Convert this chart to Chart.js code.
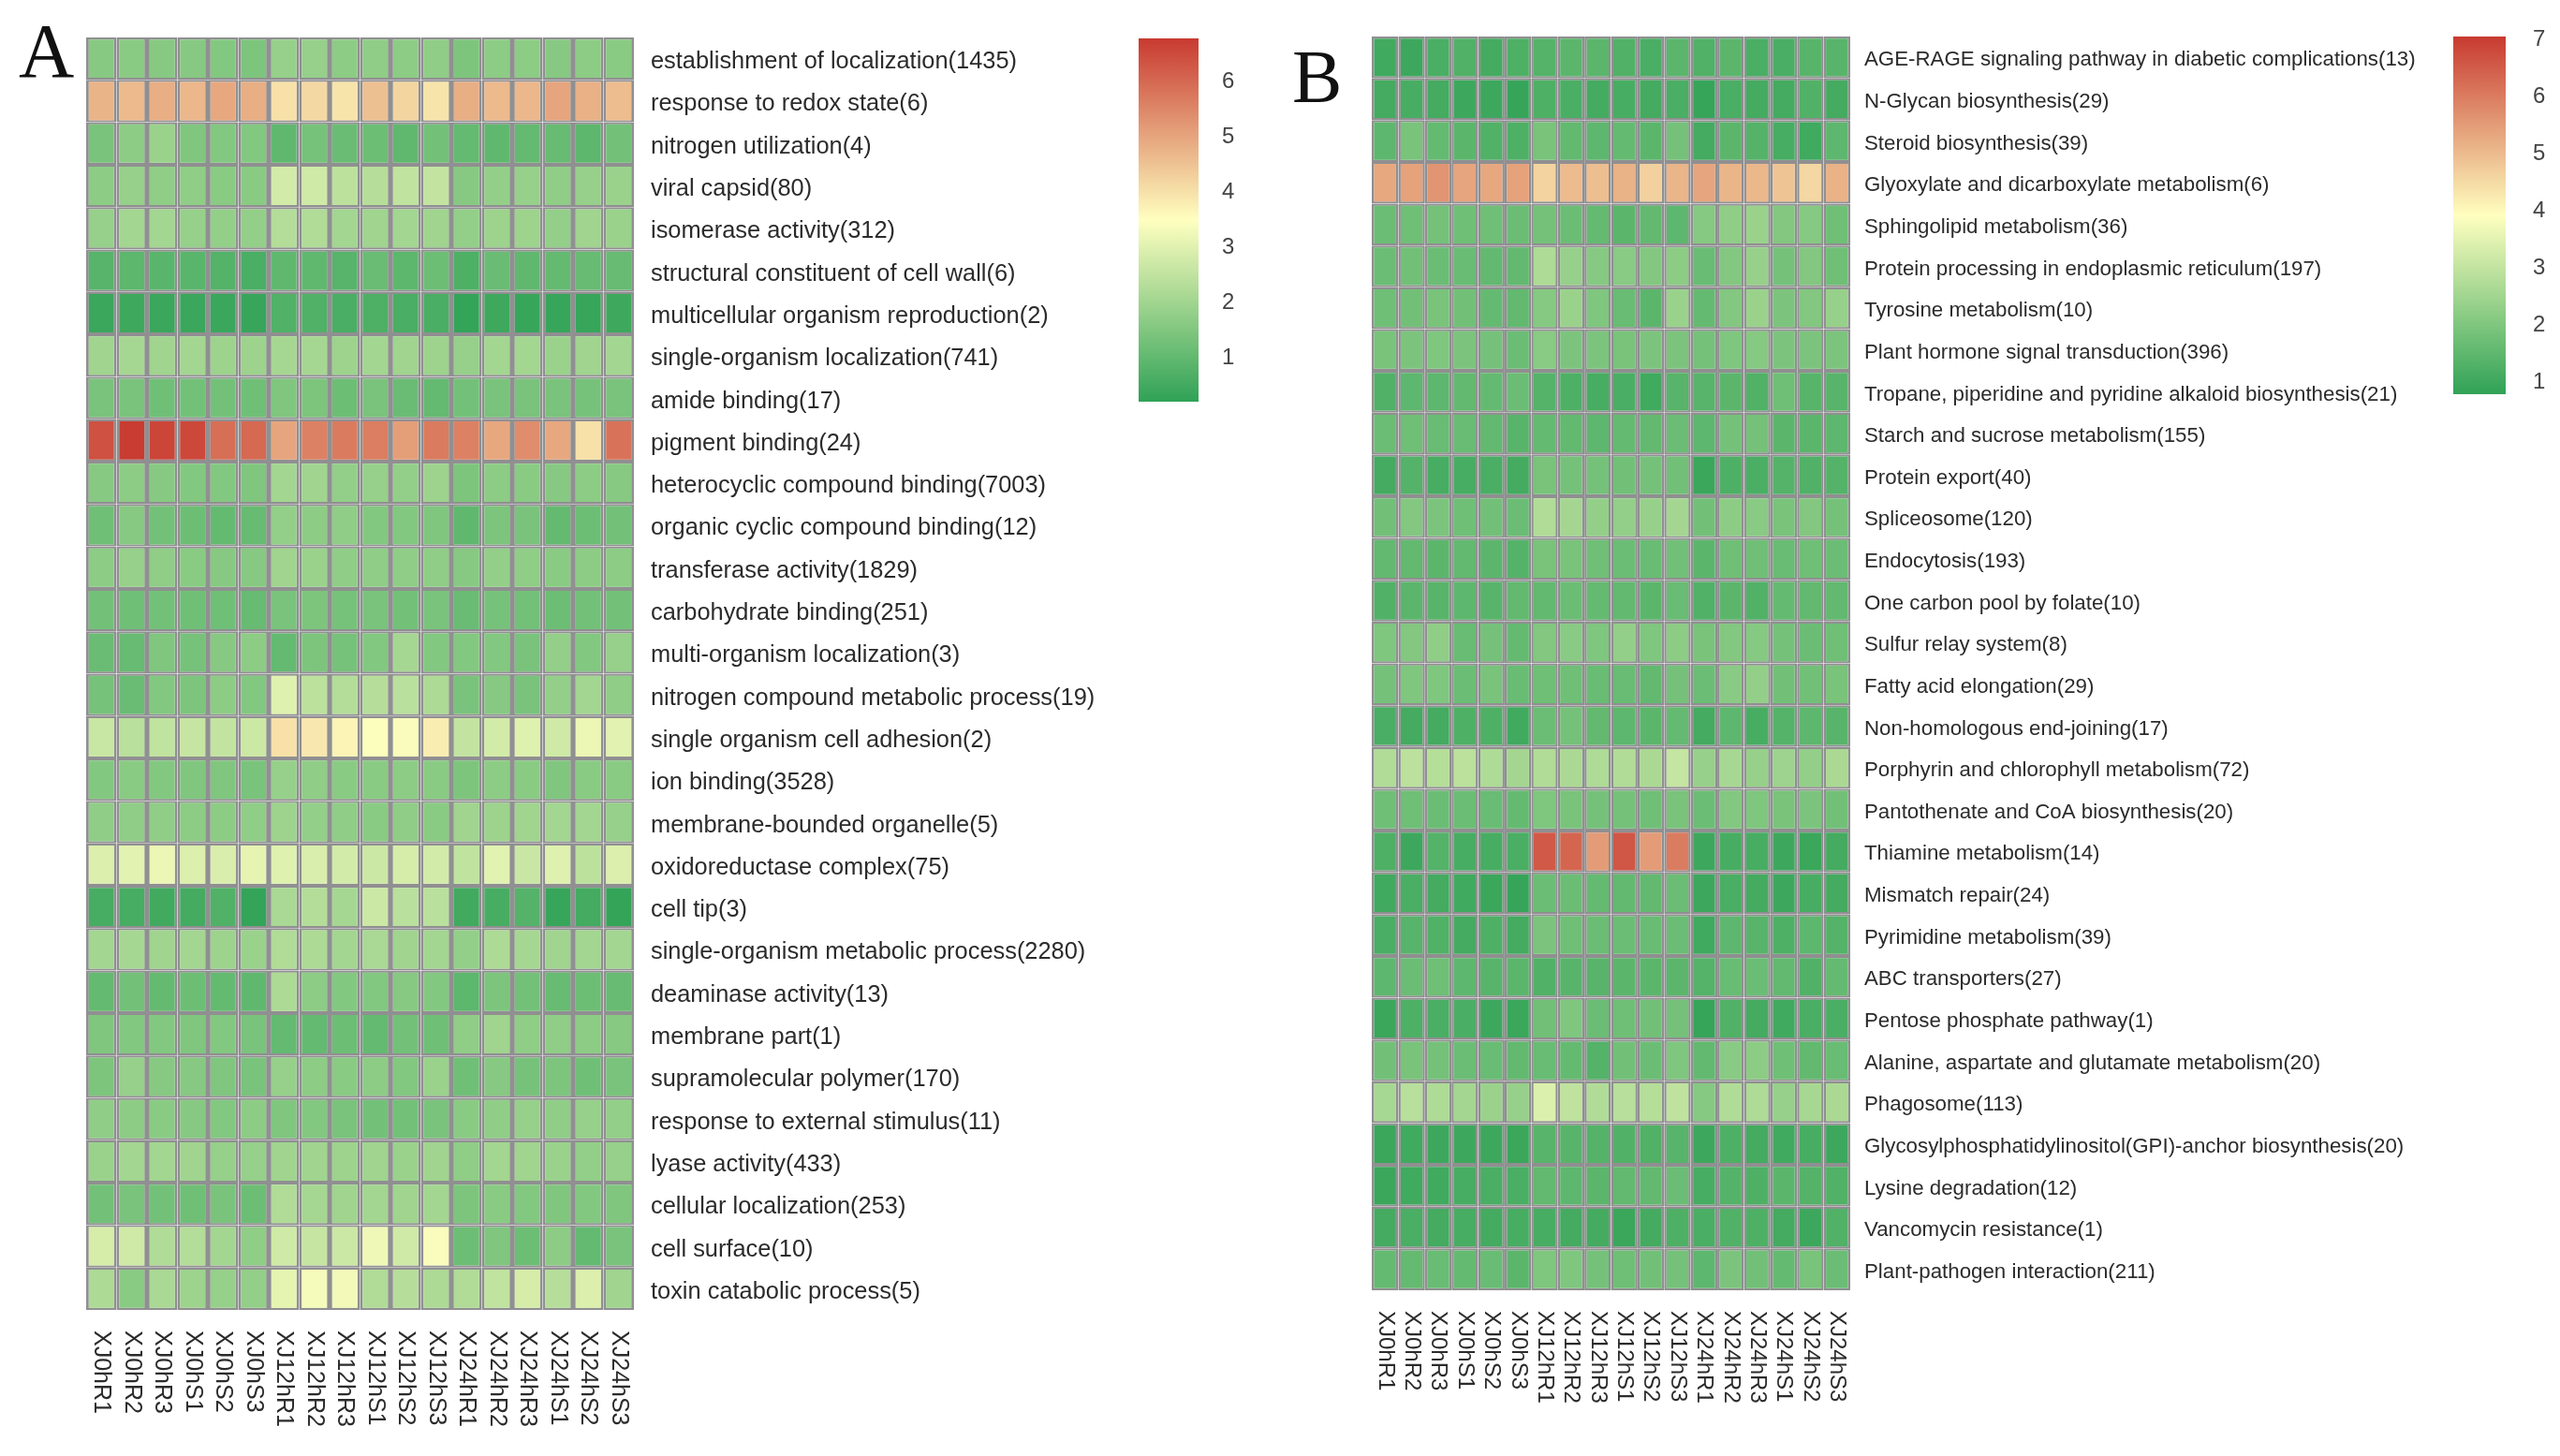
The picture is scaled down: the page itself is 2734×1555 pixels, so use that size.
<!DOCTYPE html>
<html>
<head>
<meta charset="utf-8">
<title>Heatmaps</title>
<script src="https://cdn.jsdelivr.net/npm/chart.js@4/dist/chart.umd.min.js"></script>
<style>
body { margin: 0; background: #fff; width: 2734px; height: 1555px; position: relative; overflow: hidden; }
canvas { position: absolute; top: 0; }
.tag { position: absolute; font-family: "Liberation Serif", serif; color: #111; line-height: 1; }
</style>
</head>
<body>
<div class="tag" style="left:20px;top:14px;font-size:82px">A</div>
<div class="tag" style="left:1380px;top:42px;font-size:80px">B</div>
<canvas id="heatA" width="1200" height="1555" style="left:0"></canvas>
<canvas id="barA" width="160" height="1555" style="left:1200px"></canvas>
<canvas id="heatB" width="1240" height="1555" style="left:1360px"></canvas>
<canvas id="barB" width="134" height="1555" style="left:2600px"></canvas>
<script>
var samples = ['XJ0hR1','XJ0hR2','XJ0hR3','XJ0hS1','XJ0hS2','XJ0hS3','XJ12hR1','XJ12hR2','XJ12hR3','XJ12hS1','XJ12hS2','XJ12hS3','XJ24hR1','XJ24hR2','XJ24hR3','XJ24hS1','XJ24hS2','XJ24hS3'];

var termsA = [
  'establishment of localization(1435)','response to redox state(6)','nitrogen utilization(4)','viral capsid(80)',
  'isomerase activity(312)','structural constituent of cell wall(6)','multicellular organism reproduction(2)',
  'single-organism localization(741)','amide binding(17)','pigment binding(24)','heterocyclic compound binding(7003)',
  'organic cyclic compound binding(12)','transferase activity(1829)','carbohydrate binding(251)','multi-organism localization(3)',
  'nitrogen compound metabolic process(19)','single organism cell adhesion(2)','ion binding(3528)','membrane-bounded organelle(5)',
  'oxidoreductase complex(75)','cell tip(3)','single-organism metabolic process(2280)','deaminase activity(13)','membrane part(1)',
  'supramolecular polymer(170)','response to external stimulus(11)','lyase activity(433)','cellular localization(253)',
  'cell surface(10)','toxin catabolic process(5)'
];

var valuesA = [
  [1.6,1.65,1.6,1.6,1.55,1.45,1.85,1.85,1.7,1.75,1.7,1.75,1.45,1.7,1.7,1.6,1.7,1.65],
  [4.75,4.65,4.85,4.7,4.95,4.85,4.0,4.15,3.95,4.55,4.2,3.95,4.85,4.65,4.7,5.0,4.8,4.6],
  [1.4,1.7,1.9,1.5,1.55,1.55,1.0,1.35,1.15,1.2,1.0,1.3,1.05,1.0,1.05,1.1,0.95,1.3],
  [1.7,1.85,1.75,1.75,1.65,1.65,2.8,2.75,2.45,2.35,2.5,2.55,1.6,1.8,1.85,1.75,1.85,1.9],
  [1.85,2.05,2.05,1.85,1.8,1.8,2.3,2.25,2.05,2.0,2.05,2.0,1.8,1.95,1.95,1.8,2.0,1.9],
  [0.85,0.95,0.9,0.9,0.8,0.65,1.0,1.0,0.85,1.15,0.95,1.2,0.7,1.15,1.0,1.05,1.1,1.1],
  [0.4,0.45,0.4,0.4,0.4,0.35,0.75,0.75,0.65,0.7,0.65,0.65,0.3,0.45,0.35,0.35,0.35,0.45],
  [2.0,2.1,2.0,2.05,1.95,1.95,2.1,2.1,1.95,2.05,2.0,1.95,1.85,2.05,2.05,1.9,2.0,2.05],
  [1.4,1.4,1.25,1.3,1.3,1.25,1.5,1.45,1.2,1.4,1.15,1.05,1.3,1.4,1.4,1.4,1.35,1.4],
  [6.4,6.75,6.6,6.55,5.9,6.0,5.0,5.6,5.7,5.65,5.1,5.7,5.6,4.95,5.4,4.95,4.0,5.85],
  [1.6,1.7,1.6,1.55,1.55,1.5,2.05,2.0,1.8,1.85,1.8,1.95,1.45,1.7,1.65,1.6,1.7,1.6],
  [1.25,1.6,1.3,1.2,1.05,1.1,1.8,1.7,1.75,1.55,1.55,1.5,1.0,1.45,1.4,1.05,1.2,1.3],
  [1.7,1.85,1.75,1.65,1.6,1.6,2.0,1.9,1.75,1.75,1.75,1.75,1.6,1.8,1.75,1.65,1.7,1.7],
  [1.3,1.25,1.3,1.25,1.25,1.1,1.4,1.45,1.35,1.4,1.3,1.4,1.15,1.35,1.3,1.2,1.3,1.3],
  [1.15,1.1,1.5,1.35,1.6,1.7,1.05,1.45,1.35,1.55,2.1,1.55,1.55,1.55,1.4,1.8,1.55,1.85],
  [1.35,1.15,1.55,1.45,1.7,1.55,3.0,2.45,2.3,2.35,2.4,2.2,1.4,1.6,1.4,1.8,2.05,1.75],
  [2.65,2.4,2.5,2.6,2.55,2.7,4.0,3.9,3.7,3.45,3.4,3.8,2.55,2.8,3.0,2.75,3.2,3.05],
  [1.55,1.65,1.55,1.5,1.5,1.4,1.85,1.75,1.65,1.65,1.7,1.65,1.45,1.7,1.65,1.5,1.65,1.65],
  [1.75,1.75,1.75,1.7,1.7,1.75,1.95,1.8,1.75,1.65,1.75,1.65,2.0,1.95,2.0,2.05,2.05,1.85],
  [2.95,3.05,3.2,2.95,2.9,3.1,3.0,2.9,2.8,2.7,2.85,2.8,2.5,3.05,2.65,3.0,2.45,2.95],
  [0.6,0.6,0.5,0.55,0.75,0.3,2.15,2.3,2.1,2.7,2.4,2.4,0.5,0.6,0.8,0.35,0.55,0.3],
  [2.05,2.1,2.0,2.05,1.95,1.9,2.25,2.2,2.05,2.15,2.0,2.05,1.8,2.2,2.1,2.0,2.05,2.05],
  [1.05,1.3,1.05,1.2,1.05,1.0,2.2,1.7,1.55,1.55,1.6,1.55,0.95,1.45,1.3,1.1,1.2,1.1],
  [1.5,1.55,1.55,1.5,1.55,1.4,1.05,1.05,1.2,1.05,1.3,1.25,1.75,2.0,1.75,1.75,1.7,1.6],
  [1.45,1.85,1.6,1.6,1.5,1.4,1.85,1.7,1.65,1.7,1.55,1.9,1.25,1.6,1.35,1.45,1.25,1.4],
  [1.75,1.7,1.65,1.6,1.55,1.7,1.5,1.55,1.4,1.3,1.3,1.4,1.65,1.75,1.85,1.75,1.85,1.8],
  [1.9,2.05,2.05,2.0,1.85,1.85,2.0,2.0,1.95,2.0,1.9,2.0,1.75,2.05,2.0,1.9,1.8,1.85],
  [1.3,1.4,1.3,1.25,1.4,1.2,2.25,2.1,2.0,2.05,2.0,2.05,1.45,1.65,1.55,1.5,1.55,1.5],
  [2.85,2.75,2.25,2.3,2.05,1.75,2.75,2.6,2.7,3.25,2.75,3.4,1.2,1.5,1.2,1.7,1.05,1.4],
  [2.2,1.65,2.15,1.95,1.85,1.8,3.1,3.35,3.3,2.25,2.35,2.2,2.25,2.5,2.85,2.35,2.95,2.0]
];

var termsB = [
  'AGE-RAGE signaling pathway in diabetic complications(13)','N-Glycan biosynthesis(29)','Steroid biosynthesis(39)',
  'Glyoxylate and dicarboxylate metabolism(6)','Sphingolipid metabolism(36)','Protein processing in endoplasmic reticulum(197)',
  'Tyrosine metabolism(10)','Plant hormone signal transduction(396)','Tropane, piperidine and pyridine alkaloid biosynthesis(21)',
  'Starch and sucrose metabolism(155)','Protein export(40)','Spliceosome(120)','Endocytosis(193)','One carbon pool by folate(10)',
  'Sulfur relay system(8)','Fatty acid elongation(29)','Non-homologous end-joining(17)','Porphyrin and chlorophyll metabolism(72)',
  'Pantothenate and CoA biosynthesis(20)','Thiamine metabolism(14)','Mismatch repair(24)','Pyrimidine metabolism(39)',
  'ABC transporters(27)','Pentose phosphate pathway(1)','Alanine, aspartate and glutamate metabolism(20)','Phagosome(113)',
  'Glycosylphosphatidylinositol(GPI)-anchor biosynthesis(20)','Lysine degradation(12)','Vancomycin resistance(1)','Plant-pathogen interaction(211)'
];

var valuesB = [
  [1.05,1.0,1.2,1.3,1.1,1.25,1.35,1.45,1.45,1.3,1.2,1.45,1.3,1.45,1.2,1.2,1.4,1.4],
  [1.1,1.15,1.1,1.0,1.0,0.9,1.25,1.2,1.1,1.15,1.1,1.2,0.9,1.2,1.1,1.1,1.3,1.1],
  [1.5,1.9,1.6,1.45,1.3,1.25,1.9,1.55,1.5,1.6,1.45,1.85,1.1,1.45,1.35,1.15,1.05,1.5],
  [5.3,5.4,5.6,5.35,5.3,5.4,4.6,5.0,4.95,5.15,4.65,5.1,5.35,5.1,5.05,4.85,4.55,5.15],
  [1.7,1.75,1.85,1.75,1.75,1.7,1.85,1.7,1.6,1.45,1.55,1.5,2.1,2.25,2.4,2.05,2.1,1.75],
  [1.7,1.8,1.7,1.65,1.55,1.55,2.7,2.35,2.1,2.15,2.05,2.2,1.65,2.05,2.35,1.85,2.05,1.75],
  [1.75,1.8,1.9,1.8,1.6,1.55,2.1,2.4,2.0,1.65,1.45,2.4,1.6,2.05,2.4,1.95,2.05,2.35],
  [1.9,1.95,2.0,1.95,1.85,1.7,2.15,1.95,1.95,1.9,1.95,1.95,1.85,2.0,2.1,1.95,1.95,1.95],
  [1.3,1.5,1.5,1.55,1.6,1.7,1.35,1.25,1.15,1.2,1.05,1.4,1.4,1.45,1.3,1.75,1.4,1.4],
  [1.7,1.75,1.65,1.65,1.55,1.4,1.6,1.55,1.5,1.6,1.55,1.7,1.5,1.85,1.85,1.45,1.45,1.5],
  [1.1,1.35,1.15,1.15,1.2,1.1,1.9,1.85,1.85,1.8,1.85,1.8,0.95,1.25,1.2,1.35,1.3,1.35],
  [1.8,2.05,1.95,1.75,1.8,1.7,2.75,2.55,2.3,2.3,2.35,2.55,1.8,2.2,2.15,1.9,2.05,1.85],
  [1.55,1.55,1.45,1.55,1.45,1.35,1.9,1.9,1.75,1.7,1.65,1.8,1.45,1.75,1.75,1.65,1.75,1.7],
  [1.3,1.45,1.4,1.5,1.4,1.55,1.55,1.7,1.6,1.55,1.45,1.65,1.3,1.45,1.3,1.6,1.55,1.55],
  [2.0,2.05,2.25,1.65,1.85,1.6,2.05,2.15,2.0,2.3,2.0,2.2,1.9,2.05,2.1,1.85,1.7,1.75],
  [1.85,2.0,2.0,1.7,1.9,1.65,1.75,1.75,1.65,1.65,1.55,1.85,1.7,2.15,2.3,1.8,1.8,1.9],
  [1.2,1.1,1.1,1.25,1.25,1.05,1.7,1.85,1.55,1.5,1.45,1.6,1.1,1.5,1.15,1.35,1.5,1.4],
  [2.75,2.9,2.8,2.9,2.7,2.55,2.75,2.65,2.7,2.75,2.65,3.05,2.35,2.6,2.35,2.45,2.3,2.65],
  [1.75,1.75,1.7,1.7,1.65,1.6,2.0,1.9,1.85,1.85,1.75,1.9,1.7,2.05,2.0,1.9,1.95,1.8],
  [1.25,1.0,1.35,1.15,1.15,1.2,6.55,6.35,5.5,6.6,5.5,6.0,1.0,1.15,1.15,1.0,0.95,1.1],
  [1.05,1.2,1.1,1.05,0.95,0.9,1.7,1.7,1.6,1.55,1.55,1.7,1.0,1.2,1.1,1.0,1.15,1.1],
  [1.2,1.4,1.3,1.1,1.25,1.1,1.95,1.75,1.7,1.7,1.65,1.7,1.05,1.5,1.4,1.25,1.5,1.35],
  [1.5,1.7,1.75,1.5,1.4,1.45,1.3,1.4,1.4,1.45,1.45,1.45,1.35,1.65,1.7,1.55,1.3,1.6],
  [0.95,1.25,1.2,1.2,1.0,0.95,1.8,2.0,1.7,1.75,1.8,1.85,0.9,1.3,1.1,1.05,1.2,1.2],
  [1.8,1.9,1.85,1.7,1.65,1.55,1.65,1.6,1.35,1.8,1.7,2.0,1.55,2.15,2.2,1.75,1.55,1.65],
  [2.6,2.85,2.7,2.55,2.4,2.35,3.4,2.95,2.75,2.85,2.8,2.95,2.1,2.75,2.7,2.35,2.6,2.65],
  [0.95,1.05,1.0,1.0,1.0,0.95,1.4,1.4,1.35,1.3,1.3,1.4,1.0,1.25,1.1,1.05,1.15,1.0],
  [0.95,1.05,1.05,1.15,1.2,1.2,1.55,1.5,1.45,1.55,1.55,1.7,1.15,1.35,1.25,1.45,1.35,1.3],
  [1.1,1.2,1.1,1.15,1.1,1.15,1.15,1.1,1.1,0.95,1.1,1.25,1.2,1.3,1.25,1.1,1.0,1.3],
  [1.6,1.6,1.65,1.6,1.65,1.45,2.0,2.0,1.85,1.75,1.8,1.85,1.5,1.95,1.8,1.6,1.9,1.7]
];

// legend ranges and tick values
var rangeA = [0.22, 6.78];
var rangeB = [0.79, 7.05];
var legendTicksA = [1, 2, 3, 4, 5, 6];
var legendTicksB = [1, 2, 3, 4, 5, 6, 7];

var LOW = [47, 162, 86], MID = [255, 255, 191], HIGH = [200, 58, 48];
var GRID = '#908f91';
var SANS = '"Liberation Sans", Arial, sans-serif';

// three stop ramp, yellow sits halfway along the range
function heatColor(v, range) {
  var t = (v - range[0]) / (range[1] - range[0]);
  var a = t < 0.5 ? LOW : MID, b = t < 0.5 ? MID : HIGH;
  var f = t < 0.5 ? t * 2 : t * 2 - 1;
  return 'rgb(' + [0, 1, 2].map(function (i) { return Math.round(a[i] + (b[i] - a[i]) * f); }).join(',') + ')';
}

function heatmap(id, terms, values, range, box) {
  var canvas = document.getElementById(id);
  return new Chart(canvas, {
    type: 'bar',
    data: {
      labels: terms,
      // one stacked dataset per sample, every cell is one unit wide
      datasets: samples.map(function (name, col) {
        return {
          label: name,
          data: terms.map(function () { return 1; }),
          backgroundColor: function (c) { return heatColor(values[c.dataIndex][col], range); },
          borderColor: GRID,
          borderWidth: box.border,
          borderSkipped: false,
          inflateAmount: 0,
          barPercentage: 1,
          categoryPercentage: 1
        };
      })
    },
    options: {
      indexAxis: 'y',
      responsive: false,
      animation: false,
      layout: { padding: { left: box.left, top: box.top } },
      plugins: { legend: { display: false }, tooltip: { enabled: false } },
      scales: {
        x: { display: false, stacked: true, min: 0, max: samples.length },
        y: {
          position: 'right',
          stacked: true,
          grid: { display: false },
          border: { display: false },
          ticks: { autoSkip: false, padding: box.termPad, labelOffset: box.termShift, color: '#2b2b2b', font: { family: SANS, size: box.termSize } },
          afterFit: function (s) { s.width = canvas.width - box.right; }
        },
        names: {
          axis: 'x',
          type: 'category',
          position: 'bottom',
          labels: samples,
          offset: true,
          grid: { display: false },
          border: { display: false },
          ticks: { autoSkip: false, minRotation: -90, maxRotation: -90, padding: 14, color: '#2b2b2b', font: { family: SANS, size: box.nameSize } },
          // labels read downward from the heatmap edge
          afterDataLimits: function (s) { s._getXAxisLabelAlignment = function () { return 'left'; }; },
          afterFit: function (s) { s.height = canvas.height - box.bottom; }
        }
      }
    }
  });
}

function colorLegend(id, range, tickValues, box) {
  var canvas = document.getElementById(id);
  return new Chart(canvas, {
    type: 'bar',
    data: {
      labels: [''],
      datasets: [{
        data: [range],
        barPercentage: 1,
        categoryPercentage: 1,
        backgroundColor: function (c) {
          var area = c.chart.chartArea;
          if (!area) return GRID;
          var g = c.chart.ctx.createLinearGradient(0, area.bottom, 0, area.top);
          for (var i = 0; i <= 20; i++) g.addColorStop(i / 20, heatColor(range[0] + (range[1] - range[0]) * i / 20, range));
          return g;
        }
      }]
    },
    options: {
      responsive: false,
      animation: false,
      layout: { padding: { left: box.left, top: box.top, bottom: canvas.height - box.bottom } },
      plugins: { legend: { display: false }, tooltip: { enabled: false } },
      scales: {
        x: { display: false },
        y: {
          position: 'right',
          min: range[0],
          max: range[1],
          grid: { display: false },
          border: { display: false },
          afterBuildTicks: function (s) { s.ticks = tickValues.map(function (v) { return { value: v }; }); },
          ticks: { padding: box.pad, color: '#444', font: { family: SANS, size: 24 } },
          afterFit: function (s) { s.width = canvas.width - box.right; }
        }
      }
    }
  });
}

heatmap('heatA', termsA, valuesA, rangeA, { left: 92, right: 677, top: 40, bottom: 1399, border: { top: 2.2, bottom: 2.2, left: 2.8, right: 2.8 }, termPad: 10, termShift: 3.5, termSize: 25.4, nameSize: 25 });
heatmap('heatB', termsB, valuesB, rangeB, { left: 105, right: 616, top: 39, bottom: 1378, border: { top: 2.2, bottom: 2.2, left: 2.5, right: 2.5 }, termPad: 7, termShift: 3, termSize: 22.3, nameSize: 24 });
colorLegend('barA', rangeA, legendTicksA, { left: 16, right: 80, top: 41, bottom: 429, pad: 17 });
colorLegend('barB', rangeB, legendTicksB, { left: 20, right: 76, top: 39, bottom: 421, pad: 21 });
</script>
</body>
</html>
